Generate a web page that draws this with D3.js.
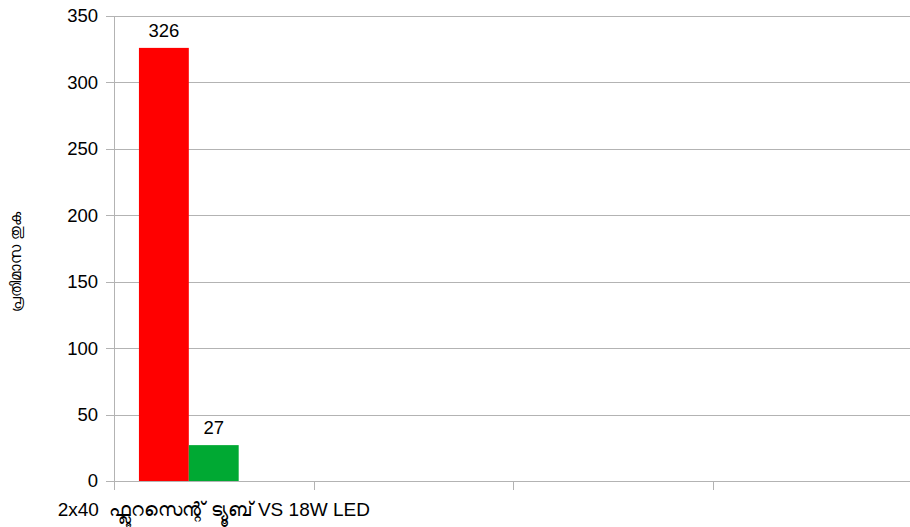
<!DOCTYPE html>
<html>
<head>
<meta charset="utf-8">
<script src="https://cdn.jsdelivr.net/npm/d3@7.9.0/dist/d3.min.js"></script>
<style>
  body { margin: 0; background: #fff; }
  text { font-family: "Liberation Sans", Arial, sans-serif; fill: #000; white-space: pre; }
</style>
</head>
<body>
<div id="chart"></div>
<script>
// data
const categories = ["2x40  ഫ്ലൂറസെന്റ് ട്യൂബ് VS 18W LED", "c2", "c3", "c4"];
const seriesNames = ["s1", "s2", "s3"];
const seriesColors = ["#ff0000", "#00a933", "#2a6099"];
const seriesValues = [
  [326, null, null, null],
  [27, null, null, null],
  [null, null, null, null]
];
const yTicks = [0, 50, 100, 150, 200, 250, 300, 350];
const yTitle = "പ്രതിമാസ തുക";

// config
const width = 910,
  height = 527;
const margin = { left: 114, right: -2, top: 16, bottom: 46 };

const svg = d3
  .select("#chart")
  .append("svg")
  .attr("width", width)
  .attr("height", height);

const x0 = d3
  .scaleBand()
  .domain(categories)
  .range([margin.left, width - margin.right]);

const x1 = d3
  .scaleBand()
  .domain(seriesNames)
  .range([0, x0.bandwidth()])
  .paddingOuter(0.5);

const y = d3
  .scaleLinear()
  .domain([0, 350])
  .range([height - margin.bottom, margin.top]);

// gridlines
svg
  .append("g")
  .selectAll("line")
  .data(yTicks)
  .join("line")
  .attr("x1", margin.left - 8)
  .attr("x2", width)
  .attr("y1", (d) => Math.round(y(d)) + 0.5)
  .attr("y2", (d) => Math.round(y(d)) + 0.5)
  .attr("stroke", "#b3b3b3")
  .attr("stroke-width", 1);

// y labels
svg
  .append("g")
  .selectAll("text")
  .data(yTicks)
  .join("text")
  .attr("x", margin.left - 16)
  .attr("y", (d) => y(d))
  .attr("dy", "0.35em")
  .attr("text-anchor", "end")
  .style("font-size", "18.5px")
  .text((d) => d);

// y axis line
svg
  .append("line")
  .attr("x1", margin.left + 0.5)
  .attr("x2", margin.left + 0.5)
  .attr("y1", y(350))
  .attr("y2", y(0) + 9)
  .attr("stroke", "#b3b3b3");

// x ticks
svg
  .append("g")
  .selectAll("line")
  .data(categories.slice(1))
  .join("line")
  .attr("x1", (d) => Math.round(x0(d)) + 0.5)
  .attr("x2", (d) => Math.round(x0(d)) + 0.5)
  .attr("y1", y(0))
  .attr("y2", y(0) + 9)
  .attr("stroke", "#b3b3b3");

// bars
const groups = svg
  .append("g")
  .selectAll("g")
  .data(categories)
  .join("g")
  .attr("transform", (d) => `translate(${x0(d)},0)`);

groups
  .selectAll("rect")
  .data((d, ci) =>
    seriesNames
      .map((s, si) => ({ s, si, v: seriesValues[si][ci] }))
      .filter((d) => d.v != null)
  )
  .join("rect")
  .attr("x", (d) => x1(d.s))
  .attr("width", x1.bandwidth())
  .attr("y", (d) => y(d.v))
  .attr("height", (d) => y(0) - y(d.v))
  .attr("fill", (d) => seriesColors[d.si]);

groups
  .selectAll("text")
  .data((d, ci) =>
    seriesNames
      .map((s, si) => ({ s, si, v: seriesValues[si][ci] }))
      .filter((d) => d.v != null)
  )
  .join("text")
  .attr("x", (d) => x1(d.s) + x1.bandwidth() / 2)
  .attr("y", (d) => y(d.v) - 11)
  .attr("text-anchor", "middle")
  .style("font-size", "18.5px")
  .text((d) => d.v);

// category label (only the first has a name)
svg
  .append("text")
  .attr("x", x0(categories[0]) + x0.bandwidth() / 2)
  .attr("y", 516)
  .attr("text-anchor", "middle")
  .style("font-size", "19px")
  .text(categories[0]);

// y title
svg
  .append("text")
  .attr("transform", `translate(21, 262) rotate(-90)`)
  .attr("text-anchor", "middle")
  .style("font-size", "15px")
  .text(yTitle);
</script>
</body>
</html>
